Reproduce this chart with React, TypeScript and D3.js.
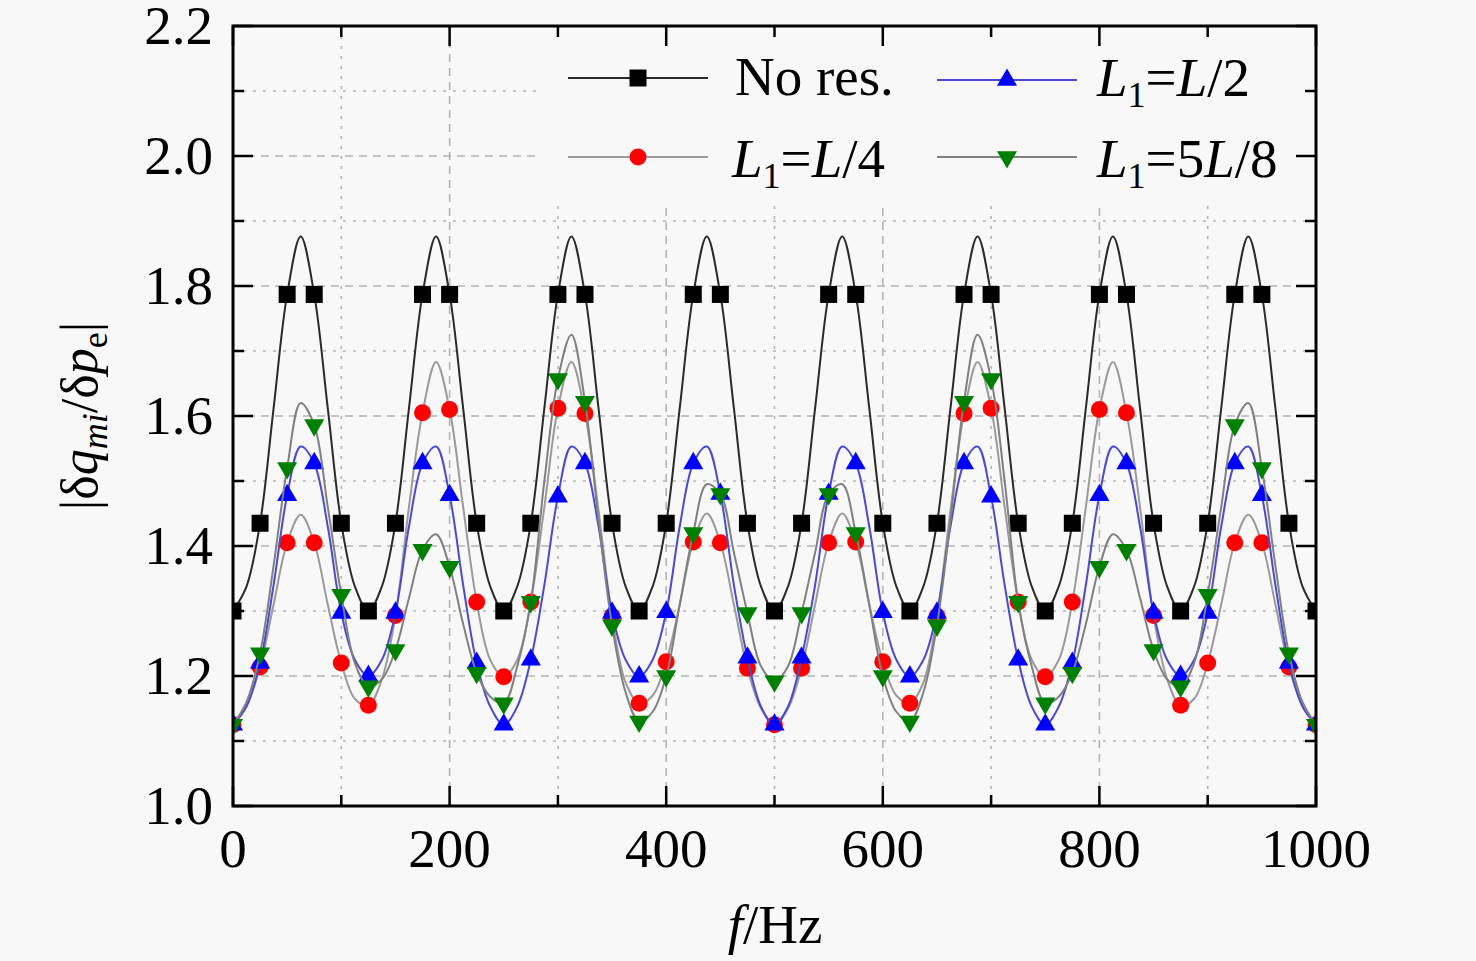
import * as d3 from "d3";

// frequency grid of the curves (Hz), markers sit on every second point (25 Hz)
const freqs = d3.range(0, 1000.001, 12.5);

const noRes = [
  1.3, 1.338, 1.435, 1.612, 1.787, 1.876, 1.787, 1.612, 1.435, 1.338,
  1.3, 1.338, 1.435, 1.612, 1.787, 1.876, 1.787, 1.612, 1.435, 1.338,
  1.3, 1.338, 1.435, 1.612, 1.787, 1.876, 1.787, 1.612, 1.435, 1.338,
  1.3, 1.338, 1.435, 1.612, 1.787, 1.876, 1.787, 1.612, 1.435, 1.338,
  1.3, 1.338, 1.435, 1.612, 1.787, 1.876, 1.787, 1.612, 1.435, 1.338,
  1.3, 1.338, 1.435, 1.612, 1.787, 1.876, 1.787, 1.612, 1.435, 1.338,
  1.3, 1.338, 1.435, 1.612, 1.787, 1.876, 1.787, 1.612, 1.435, 1.338,
  1.3, 1.338, 1.435, 1.612, 1.787, 1.876, 1.787, 1.612, 1.435, 1.338,
  1.3,
];

const quarter = [
  1.125, 1.155, 1.214, 1.31, 1.405, 1.448, 1.405, 1.31, 1.22, 1.165,
  1.155, 1.195, 1.293, 1.46, 1.605, 1.683, 1.61, 1.46, 1.314, 1.225,
  1.199, 1.225, 1.314, 1.46, 1.612, 1.683, 1.604, 1.455, 1.292, 1.19,
  1.158, 1.17, 1.222, 1.31, 1.406, 1.45, 1.405, 1.31, 1.212, 1.15,
  1.125, 1.15, 1.212, 1.31, 1.405, 1.45, 1.406, 1.31, 1.222, 1.17,
  1.158, 1.19, 1.292, 1.455, 1.604, 1.683, 1.612, 1.46, 1.314, 1.225,
  1.199, 1.225, 1.314, 1.46, 1.61, 1.683, 1.605, 1.46, 1.293, 1.195,
  1.155, 1.165, 1.22, 1.31, 1.405, 1.448, 1.405, 1.31, 1.214, 1.155,
  1.125,
];

const half = [
  1.125, 1.153, 1.22, 1.34, 1.478, 1.553, 1.527, 1.43, 1.297, 1.225,
  1.2, 1.225, 1.297, 1.43, 1.527, 1.553, 1.478, 1.34, 1.22, 1.153,
  1.125, 1.153, 1.225, 1.34, 1.476, 1.553, 1.527, 1.43, 1.297, 1.225,
  1.199, 1.225, 1.298, 1.43, 1.527, 1.553, 1.48, 1.34, 1.228, 1.153,
  1.125, 1.153, 1.228, 1.34, 1.48, 1.553, 1.527, 1.43, 1.298, 1.225,
  1.199, 1.225, 1.297, 1.43, 1.527, 1.553, 1.476, 1.34, 1.225, 1.153,
  1.125, 1.153, 1.22, 1.34, 1.478, 1.553, 1.527, 1.43, 1.297, 1.225,
  1.2, 1.225, 1.297, 1.43, 1.527, 1.553, 1.478, 1.34, 1.22, 1.153,
  1.125,
];

const fiveEighths = [
  1.125, 1.16, 1.235, 1.37, 1.52, 1.62, 1.586, 1.46, 1.325, 1.22,
  1.184, 1.195, 1.24, 1.32, 1.394, 1.418, 1.368, 1.28, 1.205, 1.168,
  1.158, 1.215, 1.314, 1.5, 1.657, 1.725, 1.622, 1.44, 1.278, 1.175,
  1.13, 1.145, 1.2, 1.31, 1.42, 1.495, 1.48, 1.39, 1.297, 1.215,
  1.192, 1.215, 1.297, 1.39, 1.48, 1.495, 1.42, 1.31, 1.2, 1.145,
  1.13, 1.175, 1.278, 1.44, 1.622, 1.725, 1.657, 1.5, 1.314, 1.215,
  1.158, 1.168, 1.205, 1.28, 1.368, 1.418, 1.394, 1.32, 1.24, 1.195,
  1.184, 1.22, 1.325, 1.46, 1.586, 1.62, 1.52, 1.37, 1.235, 1.16,
  1.125,
];

const xTicks = [0, 200, 400, 600, 800, 1000];
const xMinor = [100, 300, 500, 700, 900];
const yTicks = [1.0, 1.2, 1.4, 1.6, 1.8, 2.0, 2.2];
const yMinor = [1.1, 1.3, 1.5, 1.7, 1.9, 2.1];

type Series = {
  key: string;
  values: number[];
  line: string;
  fill: string;
  symbol: d3.SymbolType;
  size: number;
  rotate: number;
};

// drawing order: black, red, blue, green
const series: Series[] = [
  { key: "nores", values: noRes, line: "#2a2a2a", fill: "#000", symbol: d3.symbolSquare, size: 289, rotate: 0 },
  { key: "quarter", values: quarter, line: "#9a9a9a", fill: "#ff0000", symbol: d3.symbolCircle, size: 227, rotate: 0 },
  { key: "half", values: half, line: "#4a4ad0", fill: "#0000ff", symbol: d3.symbolTriangle, size: 175, rotate: 0 },
  { key: "five", values: fiveEighths, line: "#808080", fill: "#008000", symbol: d3.symbolTriangle, size: 175, rotate: 180 },
];

const W = 1476;
const H = 961;
const left = 233;
const right = 1316;
const top = 26;
const bottom = 806;
const font = "'Liberation Serif', 'Times New Roman', serif";
const bg = "#f8f8f8";

function LegendLabel({ x, y, sub }: { x: number; y: number; sub: string }) {
  return (
    <text x={x} y={y} fontSize={55} fontFamily={font} fill="#000">
      <tspan fontStyle="italic">L</tspan>
      <tspan fontSize={36} dy={11}>1</tspan>
      <tspan dy={-11}>=</tspan>
      {sub.split("").map((c, i) => (
        <tspan key={i} fontStyle={c === "L" ? "italic" : "normal"}>
          {c}
        </tspan>
      ))}
    </text>
  );
}

export default function App() {
  const x = d3.scaleLinear().domain([0, 1000]).range([left, right]);
  const y = d3.scaleLinear().domain([1.0, 2.2]).range([bottom, top]);

  const line = d3
    .line<number>()
    .x((_, i) => x(freqs[i]))
    .y((d) => y(d))
    .curve(d3.curveCatmullRom.alpha(0.5));

  const sym = (s: Series) => d3.symbol().type(s.symbol).size(s.size)() as string;

  const legendRows = [
    { s: series[0], lx: 568, ly: 78 },
    { s: series[2], lx: 937, ly: 80 },
    { s: series[1], lx: 568, ly: 157 },
    { s: series[3], lx: 937, ly: 157 },
  ];

  return (
    <svg width={W} height={H} style={{ position: "absolute", left: 0, top: 0 }}>
      <rect width={W} height={H} fill={bg} />
      <defs>
        <clipPath id="plot">
          <rect x={left} y={top} width={right - left} height={bottom - top} />
        </clipPath>
      </defs>

      {/* grid */}
      <g stroke="#b4b4b4" strokeWidth={1.6}>
        {xTicks.slice(1, -1).map((t) => (
          <line key={"gx" + t} x1={x(t)} x2={x(t)} y1={top} y2={bottom} strokeDasharray="8,6" />
        ))}
        {xMinor.map((t) => (
          <line key={"mx" + t} x1={x(t)} x2={x(t)} y1={top} y2={bottom} strokeDasharray="3,7" />
        ))}
        {yTicks.slice(1, -1).map((t) => (
          <line key={"gy" + t} x1={left} x2={right} y1={y(t)} y2={y(t)} strokeDasharray="8,6" />
        ))}
        {yMinor.map((t) => (
          <line key={"my" + t} x1={left} x2={right} y1={y(t)} y2={y(t)} strokeDasharray="3,7" />
        ))}
      </g>

      {/* legend box hides the grid behind it */}
      <rect x={537} y={top + 2} width={right - 539} height={174} fill={bg} />

      {/* series */}
      <g clipPath="url(#plot)">
        {series.map((s) => (
          <g key={s.key}>
            <path d={line(s.values) as string} fill="none" stroke={s.line} strokeWidth={2} />
            {s.values.map((v, i) =>
              i % 2 === 0 ? (
                <path
                  key={i}
                  d={sym(s)}
                  fill={s.fill}
                  transform={`translate(${x(freqs[i])},${y(v)}) rotate(${s.rotate})`}
                />
              ) : null
            )}
          </g>
        ))}
      </g>

      {/* legend */}
      {legendRows.map(({ s, lx, ly }) => (
        <g key={"lg" + s.key}>
          <line x1={lx} x2={lx + 140} y1={ly} y2={ly} stroke={s.line} strokeWidth={2} />
          <path d={sym(s)} fill={s.fill} transform={`translate(${lx + 70},${ly}) rotate(${s.rotate})`} />
        </g>
      ))}
      <text x={735} y={95} fontSize={55} fontFamily={font} fill="#000">
        No res.
      </text>
      <LegendLabel x={1097} y={96} sub="L/2" />
      <LegendLabel x={732} y={177} sub="L/4" />
      <LegendLabel x={1097} y={177} sub="5L/8" />

      {/* ticks, inward on all sides */}
      <g stroke="#000" strokeWidth={2.5}>
        {xTicks.map((t) => (
          <g key={"tx" + t}>
            <line x1={x(t)} x2={x(t)} y1={bottom} y2={bottom - 20} />
            <line x1={x(t)} x2={x(t)} y1={top} y2={top + 20} />
          </g>
        ))}
        {xMinor.map((t) => (
          <g key={"tmx" + t}>
            <line x1={x(t)} x2={x(t)} y1={bottom} y2={bottom - 11} />
            <line x1={x(t)} x2={x(t)} y1={top} y2={top + 11} />
          </g>
        ))}
        {yTicks.map((t) => (
          <g key={"ty" + t}>
            <line x1={left} x2={left + 20} y1={y(t)} y2={y(t)} />
            <line x1={right} x2={right - 20} y1={y(t)} y2={y(t)} />
          </g>
        ))}
        {yMinor.map((t) => (
          <g key={"tmy" + t}>
            <line x1={left} x2={left + 11} y1={y(t)} y2={y(t)} />
            <line x1={right} x2={right - 11} y1={y(t)} y2={y(t)} />
          </g>
        ))}
      </g>
      <rect x={left} y={top} width={right - left} height={bottom - top} fill="none" stroke="#000" strokeWidth={3} />

      {/* tick labels */}
      <g fontFamily={font} fontSize={55} fill="#000">
        {xTicks.map((t) => (
          <text key={"lx" + t} x={x(t)} y={867} textAnchor="middle">
            {t}
          </text>
        ))}
        {yTicks.map((t) => (
          <text key={"ly" + t} x={213} y={y(t) + 18} textAnchor="end">
            {t.toFixed(1)}
          </text>
        ))}
      </g>

      {/* axis titles */}
      <text x={775} y={943} fontFamily={font} fontSize={55} textAnchor="middle" fill="#000">
        <tspan fontStyle="italic">f</tspan>
        <tspan>/Hz</tspan>
      </text>
      <text
        transform="translate(97,416) rotate(-90)"
        fontFamily={font}
        fontSize={52}
        textAnchor="middle"
        fill="#000"
      >
        <tspan>|δ</tspan>
        <tspan fontStyle="italic">q</tspan>
        <tspan fontStyle="italic" fontSize={36} dy={10}>mi</tspan>
        <tspan dy={-10}>/δ</tspan>
        <tspan fontStyle="italic">p</tspan>
        <tspan fontSize={36} dy={10}>e</tspan>
        <tspan dy={-10}>|</tspan>
      </text>
    </svg>
  );
}
